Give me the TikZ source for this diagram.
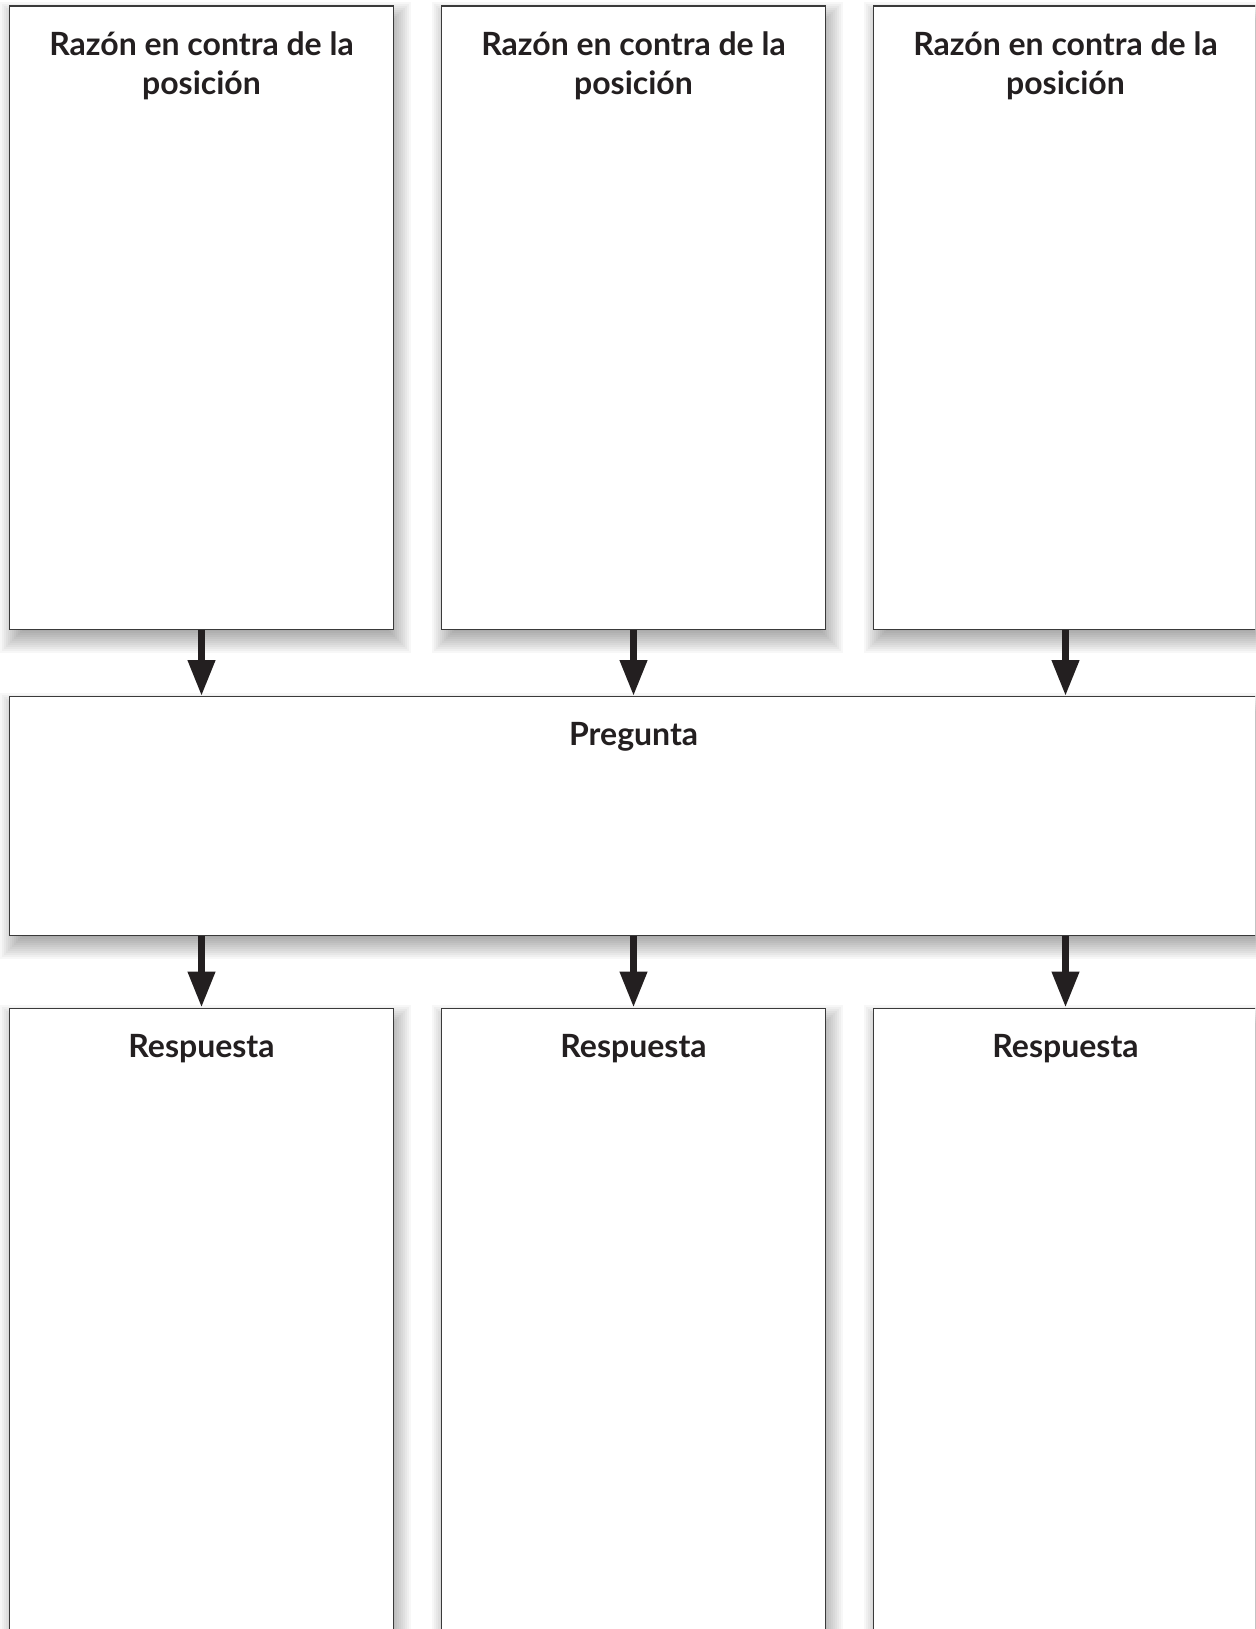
\documentclass[tikz,border=0pt]{standalone}
\usepackage{fontspec}
\setmainfont{Lato}
\usetikzlibrary{arrows.meta,calc,backgrounds}
\pgfdeclarelayer{bottom}
\pgfsetlayers{bottom,background,main}
\definecolor{ink}{HTML}{231F20}
\definecolor{edge}{HTML}{3A3A3A}
\tikzset{
  box/.style={draw=edge, line width=1.3pt, fill=white, rectangle, anchor=north west, inner sep=0pt},
  title/.style={anchor=north, align=center, text=ink, font=\fontsize{32}{38.4}\selectfont\bfseries, inner sep=0pt},
  flow/.style={draw=ink, line width=7.3pt, -{Triangle[width=26pt,length=36pt]}},
  shade piece/.style={fill=black, fill opacity=0.03, draw=none}
}
\begin{document}
\begin{tikzpicture}[x=1pt,y=-1pt]
\clip (0,0) rectangle (1255,1629);
\begin{pgfonlayer}{bottom}
\fill[white] (0,0) rectangle (1255,1629);
\end{pgfonlayer}
% top boxes
\node[box, minimum width=383.7pt, minimum height=623.5pt] (r1) at (9,5.5) {};
\node[box, minimum width=383.7pt, minimum height=623.5pt] (r2) at (441,5.5) {};
\node[box, minimum width=383.7pt, minimum height=623.5pt] (r3) at (873,5.5) {};
% question
\node[box, minimum width=1248pt, minimum height=239pt] (q) at (9,696) {};
% answers
\node[box, minimum width=383.7pt, minimum height=700pt] (a1) at (9,1007.5) {};
\node[box, minimum width=383.7pt, minimum height=700pt] (a2) at (441,1007.5) {};
\node[box, minimum width=383.7pt, minimum height=700pt] (a3) at (873,1007.5) {};
% soft shadows
\begin{scope}[on background layer]
\foreach \n in {r1,r2,r3,q,a1,a2,a3}{
  \foreach \i in {0,...,13}{
    \pgfmathsetmacro\e{14-(\i+0.5)*2}
    \path[shade piece] ($(\n.north west)+(4-\e,10-\e)$) rectangle ($(\n.south east)+(4+\e,10+\e)$);
  }
}
\end{scope}
% titles
\node[title] (t1) at ([yshift=-26.5pt]r1.north) {Razón en contra de la\\posición};
\node[title] (t2) at ([yshift=-26.5pt]r2.north) {Razón en contra de la\\posición};
\node[title] (t3) at ([yshift=-26.5pt]r3.north) {Razón en contra de la\\posición};
\node[title] (tq) at ([yshift=-26.5pt]q.north) {Pregunta};
\node[title] (ta1) at ([yshift=-26.5pt]a1.north) {Respuesta};
\node[title] (ta2) at ([yshift=-26.5pt]a2.north) {Respuesta};
\node[title] (ta3) at ([yshift=-26.5pt]a3.north) {Respuesta};
% arrows
\draw[flow] (r1.south) -- (r1.south |- q.north);
\draw[flow] (r2.south) -- (r2.south |- q.north);
\draw[flow] (r3.south) -- (r3.south |- q.north);
\draw[flow] (r1.south |- q.south) -- (a1.north);
\draw[flow] (r2.south |- q.south) -- (a2.north);
\draw[flow] (r3.south |- q.south) -- (a3.north);
\end{tikzpicture}
\end{document}
